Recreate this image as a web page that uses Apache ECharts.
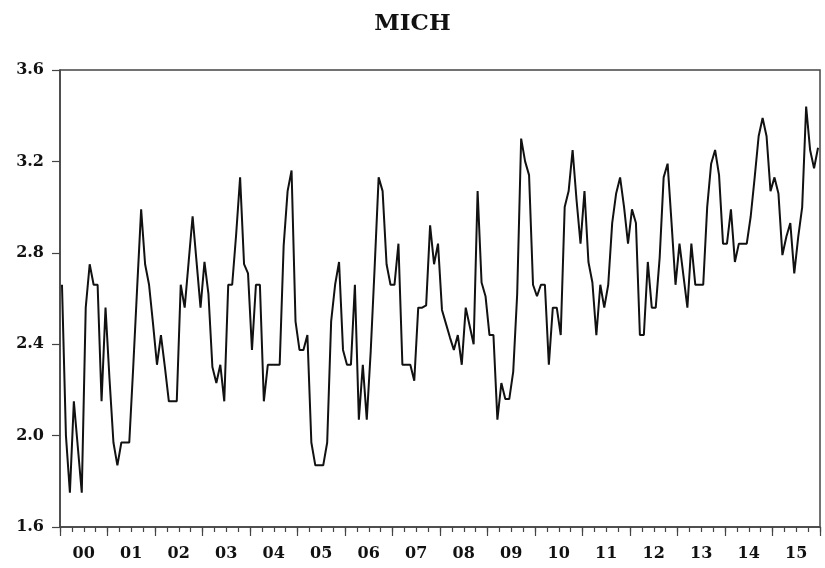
<!DOCTYPE html>
<html>
<head>
<meta charset="utf-8">
<script src="https://cdn.jsdelivr.net/npm/echarts@6/dist/echarts.min.js"></script>
<style>
html,body{margin:0;padding:0;background:#fff;}
#chart{width:825px;height:568px;}
</style>
</head>
<body>
<div id="chart"></div>
<script>
// Year tick labels
const yearLabels = ['00','01','02','03','04','05','06','07','08','09','10','11','12','13','14','15'];
// Monthly values (Jan..Dec) per year
const y2000 = [2.66, 2.00, 1.75, 2.15, 1.95, 1.75, 2.56, 2.75, 2.66, 2.66, 2.15, 2.56];
const y2001 = [2.25, 1.97, 1.87, 1.97, 1.97, 1.97, 2.30, 2.65, 2.99, 2.75, 2.66, 2.49];
const y2002 = [2.31, 2.44, 2.30, 2.15, 2.15, 2.15, 2.66, 2.56, 2.76, 2.96, 2.76, 2.56];
const y2003 = [2.76, 2.62, 2.30, 2.23, 2.31, 2.15, 2.66, 2.66, 2.88, 3.13, 2.75, 2.71];
const y2004 = [2.375, 2.66, 2.66, 2.15, 2.31, 2.31, 2.31, 2.31, 2.83, 3.07, 3.16, 2.50];
const y2005 = [2.375, 2.375, 2.44, 1.97, 1.87, 1.87, 1.87, 1.97, 2.50, 2.66, 2.76, 2.375];
const y2006 = [2.31, 2.31, 2.66, 2.07, 2.31, 2.07, 2.37, 2.74, 3.13, 3.07, 2.75, 2.66];
const y2007 = [2.66, 2.84, 2.31, 2.31, 2.31, 2.24, 2.56, 2.56, 2.57, 2.92, 2.75, 2.84];
const y2008 = [2.55, 2.49, 2.43, 2.375, 2.44, 2.31, 2.56, 2.48, 2.40, 3.07, 2.67, 2.61];
const y2009 = [2.44, 2.44, 2.07, 2.23, 2.16, 2.16, 2.28, 2.62, 3.30, 3.20, 3.14, 2.66];
const y2010 = [2.61, 2.66, 2.66, 2.31, 2.56, 2.56, 2.44, 3.00, 3.07, 3.25, 3.03, 2.84];
const y2011 = [3.07, 2.76, 2.67, 2.44, 2.66, 2.56, 2.66, 2.93, 3.06, 3.13, 3.00, 2.84];
const y2012 = [2.99, 2.93, 2.44, 2.44, 2.76, 2.56, 2.56, 2.78, 3.13, 3.19, 2.93, 2.66];
const y2013 = [2.84, 2.70, 2.56, 2.84, 2.66, 2.66, 2.66, 3.00, 3.19, 3.25, 3.14, 2.84];
const y2014 = [2.84, 2.99, 2.76, 2.84, 2.84, 2.84, 2.96, 3.13, 3.31, 3.39, 3.31, 3.07];
const y2015 = [3.13, 3.06, 2.79, 2.87, 2.93, 2.71, 2.87, 3.00, 3.44, 3.25, 3.17, 3.26];
// Y-axis range
const yMin = 1.6, yMax = 3.6, yStep = 0.4;

const yearly = [y2000,y2001,y2002,y2003,y2004,y2005,y2006,y2007,y2008,y2009,y2010,y2011,y2012,y2013,y2014,y2015];
const months = [];
const values = [];
yearly.forEach((arr, yi) => {
  arr.forEach((v, mi) => { months.push(yearLabels[yi] + '-' + (mi + 1)); values.push(v); });
});

const serif = 'DejaVu Serif';
const axisColor = '#444';
const chart = echarts.init(document.getElementById('chart'), null, {renderer: 'canvas'});
chart.setOption({
  animation: false,
  backgroundColor: '#fff',
  title: {
    text: 'MICH', left: 'center', top: 8,
    textStyle: {fontFamily: serif, fontWeight: 'bold', fontSize: 23, color: '#111'}
  },
  grid: {left: 60, right: 5, top: 70, bottom: 41, show: true, borderColor: axisColor, borderWidth: 1.5, backgroundColor: 'transparent'},
  xAxis: [
    {
      type: 'category', data: months, boundaryGap: true, position: 'bottom',
      axisLine: {show: true, lineStyle: {color: axisColor, width: 1.5}},
      axisTick: {show: true, length: 5, interval: (i) => i % 3 === 0, lineStyle: {color: axisColor, width: 1.2}},
      axisLabel: {show: false}, splitLine: {show: false}
    },
    {
      type: 'category', data: yearLabels, boundaryGap: true, position: 'bottom',
      axisLine: {show: false},
      axisTick: {show: true, length: 9, interval: 0, lineStyle: {color: axisColor, width: 1.2}},
      axisLabel: {show: true, interval: 0, margin: 19, fontFamily: serif, fontWeight: 'bold', fontSize: 16, color: '#111'},
      splitLine: {show: false}
    }
  ],
  yAxis: {
    type: 'value', min: yMin, max: yMax, interval: yStep,
    axisLine: {show: true, lineStyle: {color: axisColor, width: 1.5}},
    axisTick: {show: true, length: 8, lineStyle: {color: axisColor, width: 1.2}},
    axisLabel: {margin: 16, fontFamily: serif, fontWeight: 'bold', fontSize: 16, color: '#111', formatter: (v) => v.toFixed(1)},
    splitLine: {show: false}
  },
  series: [{
    type: 'line', data: values, xAxisIndex: 0, yAxisIndex: 0,
    symbol: 'none', lineStyle: {color: '#111', width: 2}
  }]
});
</script>
</body>
</html>
